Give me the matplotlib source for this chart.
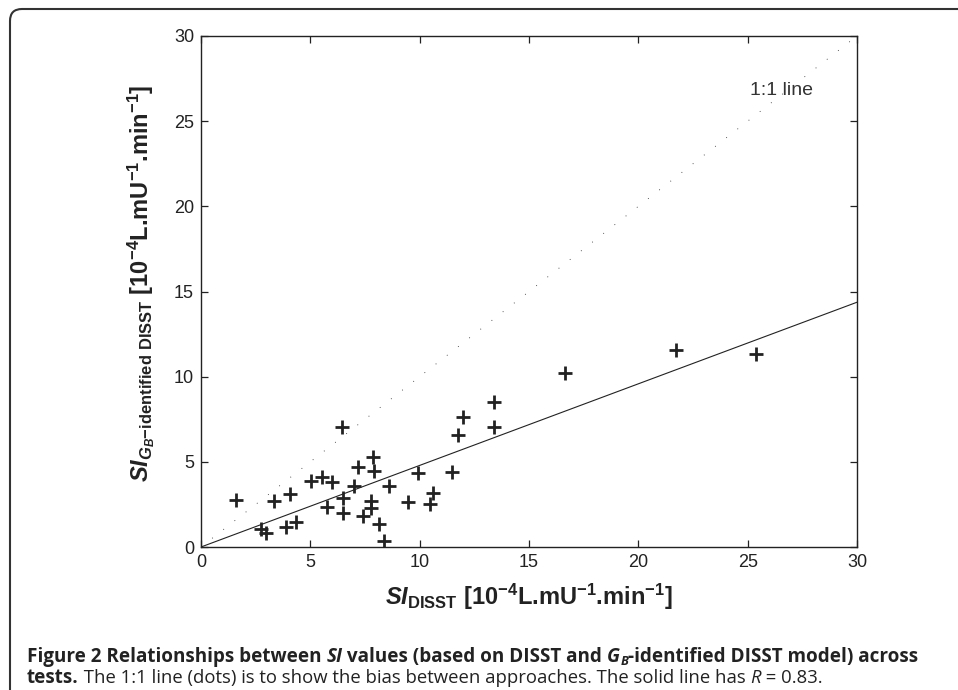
import numpy as np
import matplotlib
matplotlib.use("Agg")
import matplotlib.pyplot as plt
from matplotlib.patches import FancyBboxPatch
from matplotlib.transforms import IdentityTransform

# --- data ---
si_disst = [1.60, 2.73, 2.96, 3.35, 3.87, 4.05, 4.34, 5.03, 5.55, 5.75,
            5.97, 6.46, 6.48, 6.51, 6.98, 7.19, 7.39, 7.77, 7.77, 7.88,
            7.93, 8.15, 8.38, 8.60, 9.48, 9.94, 10.46, 10.60, 11.48, 11.75,
            11.99, 13.40, 13.40, 16.66, 21.72, 25.36]
si_gb = [2.76, 1.04, 0.80, 2.72, 1.19, 3.11, 1.49, 3.90, 4.13, 2.37,
         3.82, 7.07, 2.86, 1.98, 3.58, 4.72, 1.82, 2.72, 2.27, 5.27,
         4.46, 1.33, 0.35, 3.60, 2.62, 4.37, 2.52, 3.15, 4.38, 6.56,
         7.61, 7.07, 8.50, 10.24, 11.57, 11.33]
fit_slope = 0.479
axis_lim = [0, 30]
ticks = [0, 5, 10, 15, 20, 25, 30]

units = r" [10$^{\mathbf{-4}}$L.mU$^{\mathbf{-1}}$.min$^{\mathbf{-1}}$]"
xlabel = r"$\mathit{SI}_{\mathbf{DISST}}$" + units
ylabel = r"$\mathit{SI}_{\mathit{G}_{\mathit{B}}\mathbf{-identified\ DISST}}$" + units
ref_label = "1:1 line"

caption_line1 = [("Figure 2 Relationships between ", "b"), ("SI", "bi"),
                 (" values (based on DISST and ", "b"), ("G", "bi"), ("B", "bisub"),
                 ("-identified DISST model) across", "b")]
caption_line2 = [("tests.", "b"),
                 (" The 1:1 line (dots) is to show the bias between approaches. The solid line has ", "r"),
                 ("R", "i"), (" = 0.83.", "r")]

W, H = 958, 690
ink = "#222222"

plt.rcParams["font.family"] = "Liberation Sans"
plt.rcParams["mathtext.fontset"] = "custom"
plt.rcParams["mathtext.rm"] = "Liberation Sans:bold"
plt.rcParams["mathtext.bf"] = "Liberation Sans:bold"
plt.rcParams["mathtext.it"] = "Liberation Sans:italic:bold"

fig = plt.figure(figsize=(W / 100, H / 100), dpi=100)
ax = fig.add_axes([201 / W, 1 - 547 / H, 656 / W, 511 / H])

# scatter
ax.plot(si_disst, si_gb, linestyle="none", marker="+", markersize=9.5,
        markeredgewidth=2.0, color=ink)

# 1:1 dotted line and fitted solid line
xl = np.array(axis_lim, dtype=float)
ax.plot(xl, xl, color=ink, linewidth=0.6, dashes=(1, 16))
ax.plot(xl, fit_slope * xl, color=ink, linewidth=0.8)
ax.text(25.1, 26.8, ref_label, fontsize=14, color="#333333", ha="left", va="center")

ax.set_xlim(axis_lim)
ax.set_ylim(axis_lim)
ax.set_xticks(ticks)
ax.set_yticks(ticks)
ax.tick_params(direction="in", top=True, right=True, length=5, width=0.9,
               labelsize=13, labelcolor=ink, color=ink)
ax.tick_params(axis="x", pad=5)
ax.tick_params(axis="y", pad=5)
for s in ax.spines.values():
    s.set_color(ink)
    s.set_linewidth(1.0)

ax.set_xlabel(xlabel, fontsize=17, fontweight="bold", color=ink, labelpad=8)
ax.set_ylabel(ylabel, fontsize=17, fontweight="bold", color=ink, labelpad=12)
ax.yaxis.label.set_y(0.516)

# frame around the figure panel
frame = FancyBboxPatch((10, -40), 1100, H - 9 + 40, boxstyle="round,pad=0,rounding_size=12",
                       transform=IdentityTransform(), facecolor="none",
                       edgecolor="#333333", linewidth=1.5)
fig.patches.append(frame)

# caption
cap_font = "Open Sans"
styles = {
    "b": dict(fontfamily=cap_font, fontweight="bold", fontsize=13.6),
    "bi": dict(fontfamily=cap_font, fontweight="bold", fontstyle="italic", fontsize=13.6),
    "bisub": dict(fontfamily=cap_font, fontweight="bold", fontstyle="italic", fontsize=9.2),
    "r": dict(fontfamily=cap_font, fontsize=13.3),
    "i": dict(fontfamily=cap_font, fontstyle="italic", fontsize=13.3),
}
renderer = fig.canvas.get_renderer()


def advance(txt, kw):
    p = fig.text(0, 0, txt + "|", **kw)
    q = fig.text(0, 0, "|", **kw)
    w = p.get_window_extent(renderer).width - q.get_window_extent(renderer).width
    p.remove()
    q.remove()
    return w


def draw_caption(x0, y0, pieces):
    x = x0
    for txt, st in pieces:
        kw = styles[st]
        dy = 3 if st == "bisub" else 0
        fig.text(x / W, 1 - (y0 + dy) / H, txt, color=ink, ha="left", va="baseline", **kw)
        x += advance(txt, kw)


draw_caption(27, 662, caption_line1)
draw_caption(27, 683, caption_line2)

fig.savefig("out.png", dpi=100)
